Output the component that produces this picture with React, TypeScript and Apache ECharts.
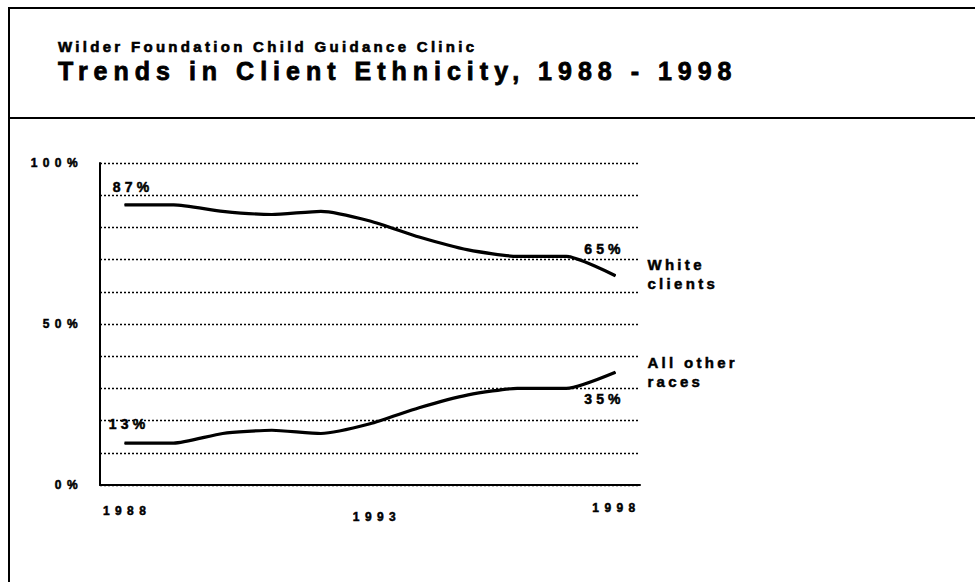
import { useEffect, useRef } from 'react';
import * as echarts from 'echarts';

// Client ethnicity shares (percent of clients), 1988 - 1998
const years = ['1988', '1989', '1990', '1991', '1992', '1993', '1994', '1995', '1996', '1997', '1998'];
const whiteClients = [87, 87, 85, 84, 85, 82, 77, 73, 71, 71, 65];
const otherRaces = [13, 13, 16, 17, 16, 19, 24, 28, 30, 30, 35];

// Percent values that carry a tick label on the vertical axis
const labelledPercents = [0, 50, 100];
// Years that carry a label on the horizontal axis
const labelledYears = ['1988', '1993', '1998'];

const seriesNames = ['White clients', 'All other races'];
const endLabelTexts = ['White\nclients', 'All other\nraces'];

const subtitleText = 'Wilder Foundation Child Guidance Clinic';
const titleText = 'Trends in Client Ethnicity, 1988 - 1998';

const FONT = '"Liberation Sans", Arial, Helvetica, sans-serif';
const INK = '#000';

// Per-year nudges of the horizontal axis labels: [top, right, bottom, left] padding
const yearLabelPadding: Record<string, number[]> = {
  '1988': [3, 0, 0, 5],
  '1993': [9, 0, 0, 14],
  '1998': [0, 0, 0, 2],
};

// Wide tracking on the chart texts, as in the printed original
const css = `
.ethnicity-chart text { letter-spacing: 0.24em; }
.ethnicity-chart text[style*="15px"] { letter-spacing: 0.22em; }
.ethnicity-chart text[style*="14px"] { letter-spacing: 0.3em; }
.ethnicity-chart text[style*="12px"] { letter-spacing: 0.45em; }
`;

const heavy = { textBorderColor: INK, textBorderWidth: 0.5 };

const valueLabelStyle = {
  show: true,
  position: 'inside' as const,
  formatter: '{c}%',
  fontFamily: FONT,
  fontSize: 14,
  fontWeight: 'bold' as const,
  color: INK,
  ...heavy,
};

// First and last points get a value label with the given offsets
function withEndValueLabels(values: number[], firstOffset: number[], lastOffset: number[]) {
  return values.map((v, i) => {
    if (i === 0) return { value: v, label: { ...valueLabelStyle, offset: firstOffset } };
    if (i === values.length - 1) return { value: v, label: { ...valueLabelStyle, offset: lastOffset } };
    return v;
  });
}

function lineSeries(name: string, endText: string, data: any[], endOffset: number[]) {
  return {
    type: 'line',
    name,
    data,
    smooth: 0.2,
    symbol: 'circle',
    symbolSize: 1,
    showSymbol: true,
    itemStyle: { color: INK },
    lineStyle: { color: INK, width: 3.2 },
    endLabel: {
      show: true,
      formatter: () => endText,
      distance: 32,
      offset: endOffset,
      align: 'left',
      fontFamily: FONT,
      fontSize: 15,
      fontWeight: 'bold',
      lineHeight: 19,
      color: INK,
      ...heavy,
    },
  };
}

export default function App() {
  const ref = useRef<HTMLDivElement>(null);

  useEffect(() => {
    if (!ref.current) return;
    const chart = echarts.init(ref.current, null, { renderer: 'svg' });

    chart.setOption({
      animation: false,
      backgroundColor: '#fff',
      title: [
        {
          text: subtitleText,
          left: 58,
          top: 38.5,
          padding: 0,
          textStyle: {
            fontFamily: FONT, fontSize: 15, fontWeight: 'bold', color: INK, lineHeight: 15,
            textBorderColor: INK, textBorderWidth: 0.6,
          },
        },
        {
          text: titleText,
          left: 58,
          top: 58.5,
          padding: 0,
          textStyle: {
            fontFamily: FONT, fontSize: 25, fontWeight: 'bold', color: INK, lineHeight: 25,
            textBorderColor: INK, textBorderWidth: 0.8,
          },
        },
      ],
      graphic: [
        {
          type: 'rect',
          silent: true,
          shape: { x: 9, y: 8, width: 1000, height: 620 },
          style: { fill: 'none', stroke: INK, lineWidth: 2 },
        },
        {
          type: 'line',
          silent: true,
          shape: { x1: 9, y1: 118, x2: 975, y2: 118 },
          style: { stroke: INK, lineWidth: 2 },
        },
      ],
      grid: { left: 100, right: 335, top: 163, bottom: 97, containLabel: false },
      xAxis: {
        type: 'category',
        boundaryGap: true,
        data: years.map((y) => ({
          value: y,
          textStyle: { padding: yearLabelPadding[y] || [0, 0, 0, 0] },
        })),
        axisLine: { show: true, lineStyle: { color: INK, width: 2 } },
        axisTick: { show: false },
        splitLine: { show: false },
        axisLabel: {
          interval: (_i: number, value: string) => labelledYears.includes(value),
          margin: 17,
          fontFamily: FONT,
          fontSize: 12,
          fontWeight: 'bold',
          lineHeight: 12,
          color: INK,
          ...heavy,
        },
      },
      yAxis: {
        type: 'value',
        min: 0,
        max: 100,
        interval: 10,
        axisLine: { show: true, lineStyle: { color: INK, width: 2 } },
        axisTick: { show: false },
        splitLine: { show: true, lineStyle: { color: INK, width: 1.4, type: [2, 2] } },
        axisLabel: {
          formatter: (v: number) => (labelledPercents.includes(v) ? `${v}%` : ''),
          margin: 17,
          fontFamily: FONT,
          fontSize: 12,
          fontWeight: 'bold',
          color: INK,
          ...heavy,
        },
      },
      series: [
        lineSeries(seriesNames[0], endLabelTexts[0], withEndValueLabels(whiteClients, [8.5, -18], [-11, -27]), [0, -2]),
        lineSeries(seriesNames[1], endLabelTexts[1], withEndValueLabels(otherRaces, [4.5, -19], [-11, 27]), [0, 0]),
      ],
    });

    return () => chart.dispose();
  }, []);

  return (
    <>
      <style>{css}</style>
      <div
        ref={ref}
        className="ethnicity-chart"
        style={{ position: 'fixed', left: 0, top: 0, width: 975, height: 582, background: '#fff' }}
      />
    </>
  );
}
